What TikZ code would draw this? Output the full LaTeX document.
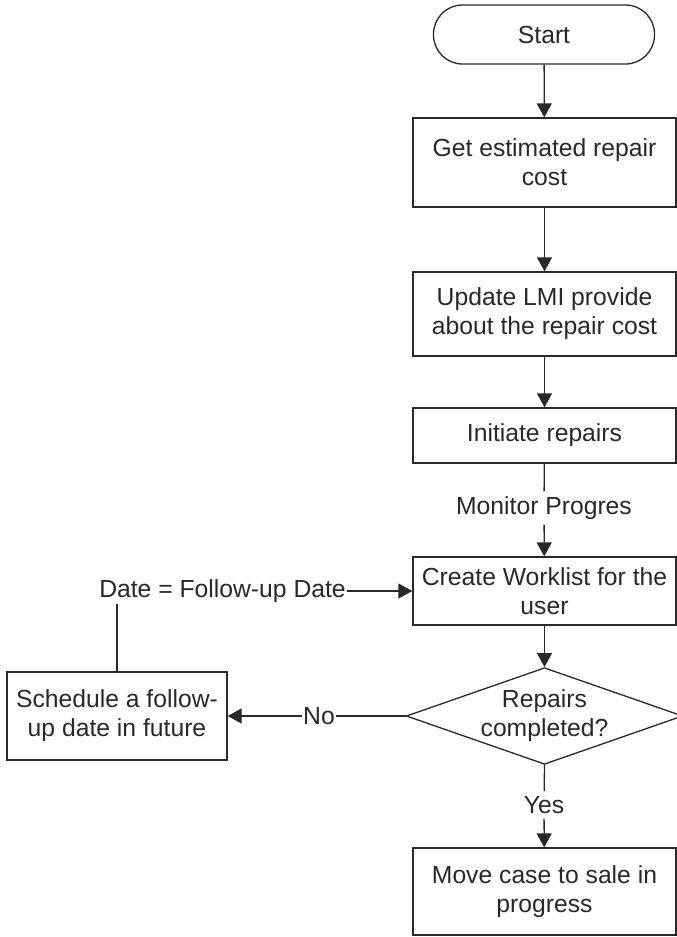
\documentclass[tikz,border=0pt]{standalone}
\usepackage{fontspec}
\setmainfont{Liberation Sans}
\usetikzlibrary{arrows.meta,shapes.geometric,calc}
\definecolor{ink}{RGB}{40,40,40}
\begin{document}
\begin{tikzpicture}[x=1pt,y=-1pt,
  every node/.style={font=\fontsize{24.7}{29}\selectfont, text=ink},
  box/.style={draw=ink, line width=1.3pt, rectangle, align=center, minimum width=263pt, inner sep=0pt},
  term/.style={draw=ink, line width=1.3pt, rectangle, rounded corners=29pt, minimum width=221pt, minimum height=59pt, inner sep=0pt},
  dec/.style={draw=ink, line width=1.3pt, diamond, aspect=2.86, minimum width=263pt, minimum height=92pt, inner sep=0pt, align=center},
  lbl/.style={inner sep=1pt, fill=white},
  conn/.style={draw=ink, line width=1.3pt},
  arr/.style={conn, -{Triangle[length=14pt,width=15pt]}}
]
\useasboundingbox (0,0) rectangle (677,937);
\node[term] (start) at (544,34.5) {Start};
\node[box, minimum height=89pt] (b1) at (544.5,162.5) {Get estimated repair\\cost};
\node[box, minimum height=84pt] (b2) at (544.5,314) {Update LMI provide\\about the repair cost};
\node[box, minimum height=55pt] (b3) at (544.5,435.5) {Initiate repairs};
\node[lbl, inner ysep=5pt] (mon) at (544,508) {Monitor Progres};
\node[box, minimum height=68pt] (b4) at (544.5,591) {Create Worklist for the\\user};
\node[dec] (dec) at (544.5,716) {Repairs\\completed?};
\node[box, minimum width=220pt, minimum height=88pt] (sch) at (117,716) {Schedule a follow-\\up date in future};
\node[lbl] (date) at (222.5,591) {Date = Follow-up Date};
\node[lbl] (no) at (319,716) {No};
\node[lbl, inner ysep=5pt] (yes) at (544,805) {Yes};
\node[box, minimum height=87pt] (b5) at (544.5,891.5) {Move case to sale in\\progress};

\draw[arr] (start) -- (b1);
\draw[arr] (b1) -- (b2);
\draw[arr] (b2) -- (b3);
\draw[conn] (b3) -- (mon);
\draw[arr] (mon) -- (b4);
\draw[arr] (b4) -- (dec);
\draw[conn] (dec.west) -- (no);
\draw[arr] (no) -- (sch);
\draw[conn] (sch.north) -- (sch.north |- date.south);
\draw[arr] (date) -- (b4);
\draw[conn] (dec.south) -- (yes);
\draw[arr] (yes) -- (b5);
\end{tikzpicture}
\end{document}
